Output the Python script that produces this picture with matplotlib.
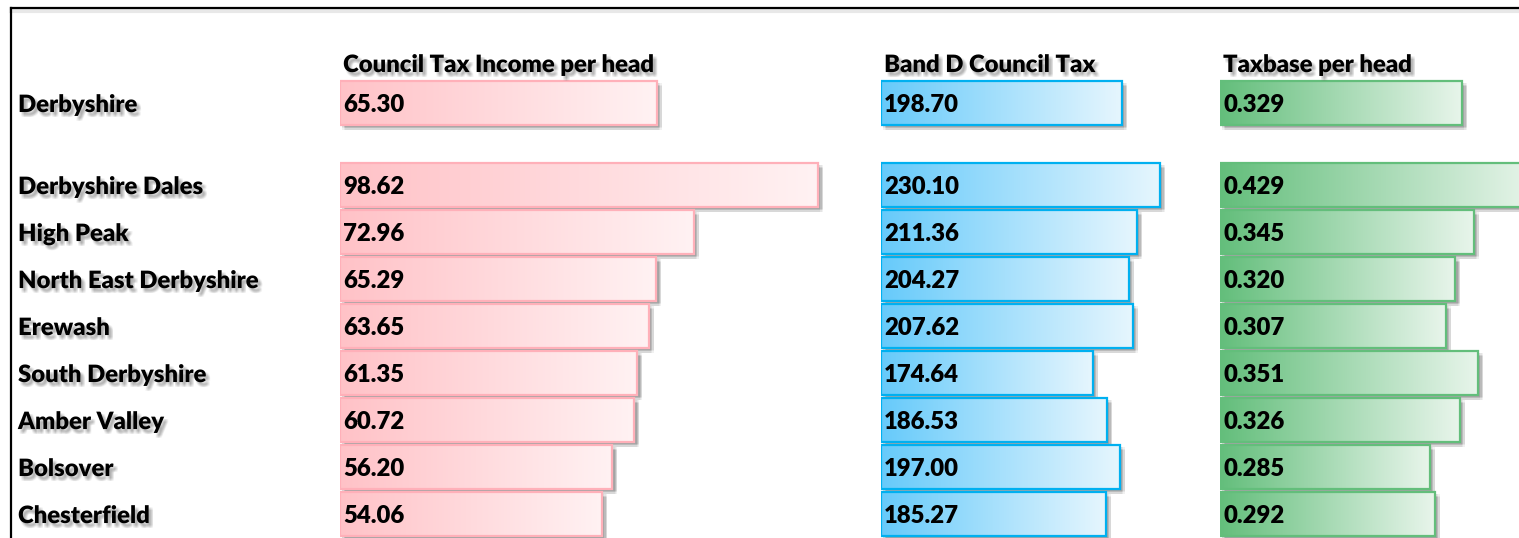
import numpy as np
import matplotlib
matplotlib.use('Agg')
from matplotlib import pyplot as plt
from matplotlib import patheffects
from matplotlib import transforms
from matplotlib.lines import Line2D

AREAS = ['Derbyshire', 'Derbyshire Dales', 'High Peak', 'North East Derbyshire',
         'Erewash', 'South Derbyshire', 'Amber Valley', 'Bolsover', 'Chesterfield']
INCOME_PER_HEAD = [65.30, 98.62, 72.96, 65.29, 63.65, 61.35, 60.72, 56.20, 54.06]
BAND_D_TAX = [198.70, 230.10, 211.36, 204.27, 207.62, 174.64, 186.53, 197.00, 185.27]
TAXBASE_PER_HEAD = [0.329, 0.429, 0.345, 0.320, 0.307, 0.351, 0.326, 0.285, 0.292]
HEADERS = ['Council Tax Income per head', 'Band D Council Tax', 'Taxbase per head']
VALUE_FORMATS = ['{:.2f}', '{:.2f}', '{:.3f}']

# layout in pixels
W, H = 1519, 538
ROW_PITCH = 47
FIRST_ROW_PX = 103
COUNTY_GAP = 0.745
BAR_H = 0.93
FONT = 'Lato'
FONT_SIZE = 17.2
WEIGHT = 'heavy'
BASELINE_DROP = -6.5  # points below row centre

# left px, width px, px per unit, gradient start, gradient end, edge colour
COLUMNS = [
    (340, 540, 4.847, '#FFC2C7', '#FFF2F3', '#FFB0B9'),
    (881, 338, 1.2125, '#66CAFA', '#E6F6FE', '#00B0F0'),
    (1220, 299, 735.6, '#63BE7B', '#E8F5EB', '#63BE7B'),
]


def hex_rgb(c):
    return np.array(matplotlib.colors.to_rgb(c))


def gradient(c0, c1, n=256):
    t = np.linspace(0, 1, n)[:, None]
    return (hex_rgb(c0) * (1 - t) + hex_rgb(c1) * t)[None, :, :]


def soft_shadow(dx, dy, spread, alpha, normal=True):
    effects = []
    for ox in (-spread, 0, spread):
        for oy in (-spread, 0, spread):
            effects.append(patheffects.SimplePatchShadow(offset=(dx + ox, dy + oy),
                                                         shadow_rgbFace='0.4', alpha=alpha))
    if normal:
        effects.append(patheffects.Normal())
    return effects


def main():
    fig = plt.figure(figsize=(W / 100, H / 100), dpi=100)
    fig.patch.set_facecolor('white')

    ypos = [0.0] + [i + 1 + COUNTY_GAP for i in range(len(AREAS) - 1)]
    ylim = ((H - FIRST_ROW_PX) / ROW_PITCH, -FIRST_ROW_PX / ROW_PITCH)
    header_y = (63 - FIRST_ROW_PX) / ROW_PITCH

    text_shadow = soft_shadow(2.2, -2.6, 0.9, 0.07)
    bar_shadow = soft_shadow(2.6, -2.6, 1.0, 0.09, normal=False)

    series = [INCOME_PER_HEAD, BAND_D_TAX, TAXBASE_PER_HEAD]
    text_kw = dict(va='baseline', ha='left', fontsize=FONT_SIZE, fontweight=WEIGHT,
                   family=FONT, color='black', textcoords='offset points')
    axes = []
    for (left, width, scale, c0, c1, edge), values, header, fmt in zip(COLUMNS, series, HEADERS, VALUE_FORMATS):
        ax = fig.add_axes([left / W, 0, width / W, 1])
        ax.set_axis_off()
        ax.barh(ypos, values, height=BAR_H, color='white', edgecolor='none', zorder=1, path_effects=bar_shadow)
        grad = gradient(c0, c1)
        for y, v in zip(ypos, values):
            ax.imshow(grad, extent=(0, v, y + BAR_H / 2, y - BAR_H / 2), aspect='auto',
                      interpolation='bilinear', zorder=2)
            ax.annotate(fmt.format(v), (0, y), xytext=(2.2, BASELINE_DROP), zorder=4, **text_kw)
        ax.barh(ypos, values, height=BAR_H, facecolor='none', edgecolor=edge, linewidth=1.6, zorder=3)
        ax.annotate(header, (0, header_y), xytext=(2.2, BASELINE_DROP),
                    path_effects=text_shadow, **text_kw)
        ax.set_xlim(0, width / scale)
        ax.set_ylim(*ylim)
        axes.append(ax)

    # row labels
    trans = transforms.blended_transform_factory(fig.transFigure, axes[0].transData)
    for y, name in zip(ypos, AREAS):
        axes[0].annotate(name, (18 / W, y), xycoords=trans, xytext=(0, BASELINE_DROP),
                         path_effects=text_shadow, annotation_clip=False, **text_kw)

    # outer frame
    top = 1 - 8 / H
    left = 10.5 / W
    fig.add_artist(Line2D([left, 1], [top - 3 / H, top - 3 / H], transform=fig.transFigure,
                          color='0.85', lw=3, alpha=0.6))
    fig.add_artist(Line2D([left, 1], [top, top], transform=fig.transFigure, color='black', lw=1.6))
    fig.add_artist(Line2D([left, left], [0, top], transform=fig.transFigure, color='black', lw=1.6))

    fig.savefig('out.png', dpi=100, facecolor='white')


main()
